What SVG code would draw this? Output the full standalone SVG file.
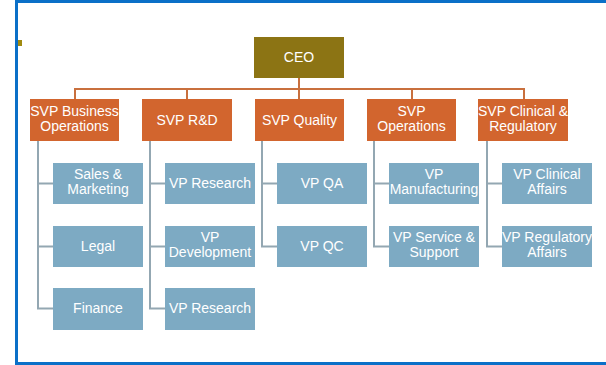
<svg xmlns="http://www.w3.org/2000/svg" width="606" height="365" viewBox="0 0 606 365">
<style>
.ceo{fill:#8C7414}
.svp{fill:#D2652E}
.vp{fill:#7DAAC3}
text{font-family:"Liberation Sans",Arial,sans-serif;font-size:14px;fill:#FFFFFF;text-anchor:middle}
.oc{stroke:#C9703E;stroke-width:2;fill:none}
.gc{stroke:#93A7B2;stroke-width:2;fill:none}
</style>
<rect x="0" y="0" width="606" height="365" fill="#FFFFFF"/>
<rect x="15" y="0" width="591" height="3" fill="#0B70C8"/>
<rect x="15" y="0" width="3" height="365" fill="#0B70C8"/>
<rect x="15" y="362" width="591" height="3" fill="#0B70C8"/>
<rect x="18" y="40" width="4" height="6" fill="#A08A10"/>
<g id="connectors">
<path class="oc" d="M299 78V89M75 99V89H524V99M187 89V99M299 89V99M412 89V99"/>
<path class="gc" d="M38 141V308.5H53M38 183.5H53M38 246.5H53"/>
<path class="gc" d="M150 141V308.5H165M150 183.5H165M150 246.5H165"/>
<path class="gc" d="M262 141V246.5H277M262 183.5H277"/>
<path class="gc" d="M374 141V246.5H389M374 183.5H389"/>
<path class="gc" d="M487 141V246.5H502M487 183.5H502"/>
</g>
<g id="ceo"><rect class="ceo" x="254" y="37" width="90" height="41"/><text x="299" y="62">CEO</text></g>
<g id="svp-bizops"><rect class="svp" x="30" y="99" width="89" height="42"/><text x="74.5" y="116">SVP Business</text><text x="74.5" y="131">Operations</text></g>
<g id="svp-rd"><rect class="svp" x="142" y="99" width="90" height="42"/><text x="187" y="125">SVP R&amp;D</text></g>
<g id="svp-quality"><rect class="svp" x="255" y="99" width="89" height="42"/><text x="299.5" y="125">SVP Quality</text></g>
<g id="svp-ops"><rect class="svp" x="367" y="99" width="89" height="42"/><text x="411.5" y="116">SVP</text><text x="411.5" y="131">Operations</text></g>
<g id="svp-clin"><rect class="svp" x="478" y="99" width="90" height="42"/><text x="523" y="116">SVP Clinical &amp;</text><text x="523" y="131">Regulatory</text></g>
<g id="sales"><rect class="vp" x="53" y="163" width="90" height="41"/><text x="98" y="179">Sales  &amp;</text><text x="98" y="194">Marketing</text></g>
<g id="legal"><rect class="vp" x="53" y="226" width="90" height="41"/><text x="98" y="251">Legal</text></g>
<g id="finance"><rect class="vp" x="53" y="288" width="90" height="42"/><text x="98" y="313">Finance</text></g>
<g id="vp-research-1"><rect class="vp" x="165" y="163" width="90" height="41"/><text x="210" y="188">VP Research</text></g>
<g id="vp-development"><rect class="vp" x="165" y="226" width="90" height="41"/><text x="210" y="242">VP</text><text x="210" y="257">Development</text></g>
<g id="vp-research-2"><rect class="vp" x="165" y="288" width="90" height="42"/><text x="210" y="313">VP Research</text></g>
<g id="vp-qa"><rect class="vp" x="277" y="163" width="90" height="41"/><text x="322" y="188">VP QA</text></g>
<g id="vp-qc"><rect class="vp" x="277" y="226" width="90" height="41"/><text x="322" y="251">VP QC</text></g>
<g id="vp-mfg"><rect class="vp" x="389" y="163" width="90" height="41"/><text x="434" y="179">VP</text><text x="434" y="194">Manufacturing</text></g>
<g id="vp-service"><rect class="vp" x="389" y="226" width="90" height="41"/><text x="434" y="242">VP Service &amp;</text><text x="434" y="257">Support</text></g>
<g id="vp-clinical"><rect class="vp" x="502" y="163" width="90" height="41"/><text x="547" y="179">VP Clinical</text><text x="547" y="194">Affairs</text></g>
<g id="vp-regulatory"><rect class="vp" x="502" y="226" width="90" height="41"/><text x="547" y="242">VP Regulatory</text><text x="547" y="257">Affairs</text></g>
</svg>
